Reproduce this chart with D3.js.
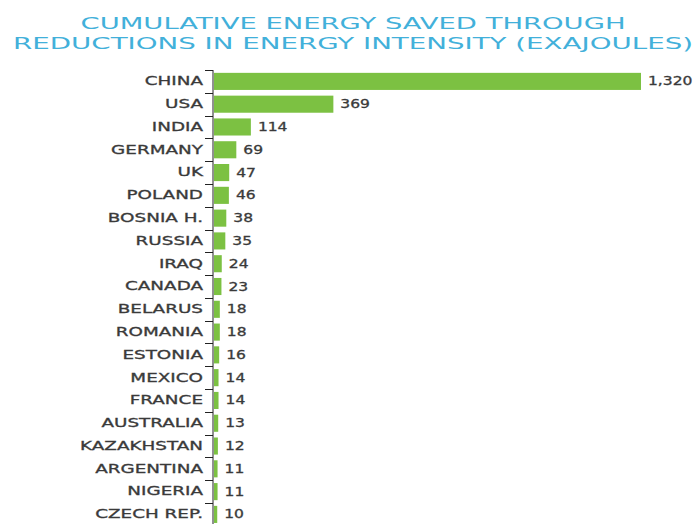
<!DOCTYPE html>
<html>
<head>
<meta charset="utf-8">
<script src="https://cdn.jsdelivr.net/npm/d3@7"></script>
<style>
  html, body { margin: 0; padding: 0; background: #ffffff; }
  svg { display: block; }
</style>
</head>
<body>
<svg id="chart" width="699" height="524"></svg>
<script>
const titleLines = ["CUMULATIVE ENERGY SAVED THROUGH", "REDUCTIONS IN ENERGY INTENSITY (EXAJOULES)"];
const countries = ["CHINA", "USA", "INDIA", "GERMANY", "UK", "POLAND", "BOSNIA H.", "RUSSIA", "IRAQ", "CANADA",
  "BELARUS", "ROMANIA", "ESTONIA", "MEXICO", "FRANCE", "AUSTRALIA", "KAZAKHSTAN", "ARGENTINA", "NIGERIA", "CZECH REP."];
const values = [1320, 369, 114, 69, 47, 46, 38, 35, 24, 23, 18, 18, 16, 14, 14, 13, 12, 11, 11, 10];

const svg = d3.select("#chart");
const SX = 1.53;          // horizontal stretch of the reference lettering
const fontFam = "'DejaVu Sans', sans-serif";

// Title
const titleWidths = [545, 680];
svg.append("g").selectAll("text").data(titleLines).join("text")
  .attr("x", 353)
  .attr("y", (d, i) => 29 + i * 19.5)
  .attr("text-anchor", "middle")
  .attr("font-family", fontFam)
  .attr("font-size", 15.5)
  .attr("fill", "#42b0da")
  .attr("textLength", (d, i) => titleWidths[i])
  .attr("lengthAdjust", "spacingAndGlyphs")
  .text(d => d);

const x = d3.scaleLinear().domain([0, 1320]).range([213, 640]);
const y = d3.scaleBand().domain(countries).range([70, 525.8]).paddingInner(0.25).paddingOuter(0.125);

const rows = countries.map((c, i) => ({ c, v: values[i] }));

// Bars
svg.append("g").selectAll("rect").data(rows).join("rect")
  .attr("x", x(0) + 1)
  .attr("y", d => y(d.c))
  .attr("width", d => x(d.v) - x(0) - 1 + 1)
  .attr("height", y.bandwidth())
  .attr("fill", "#7cc142");

// Axis with category labels
const axisG = svg.append("g")
  .attr("transform", `translate(${x(0)},0)`)
  .call(d3.axisLeft(y).tickSize(0).tickPadding(10));
axisG.select(".domain").remove();
axisG.selectAll("text")
  .attr("font-family", fontFam)
  .attr("font-size", 12)
  .attr("fill", "#3a3a3a")
  .attr("stroke", "#3a3a3a")
  .attr("stroke-width", 0.3)
  .attr("x", null)
  .attr("transform", `translate(-10,0) scale(${SX},1)`);

// Axis line and boundary ticks
const half = y.step() * y.paddingInner() / 2;
svg.append("line")
  .attr("x1", x(0)).attr("x2", x(0))
  .attr("y1", y(countries[0]) - half).attr("y2", 524)
  .attr("stroke", "#222").attr("stroke-width", 1);
svg.append("g").selectAll("line").data(rows).join("line")
  .attr("x1", x(0) - 8).attr("x2", x(0))
  .attr("y1", d => Math.round(y(d.c) - half) + 0.5)
  .attr("y2", d => Math.round(y(d.c) - half) + 0.5)
  .attr("stroke", "#222").attr("stroke-width", 1);

// Value labels
svg.append("g").selectAll("text").data(rows).join("text")
  .attr("transform", d => `translate(${x(d.v) + 8},${y(d.c) + y.bandwidth() / 2}) scale(1.35,1)`)
  .attr("dy", "0.35em")
  .attr("font-family", fontFam)
  .attr("font-size", 11.5)
  .attr("fill", "#3a3a3a")
  .attr("stroke", "#3a3a3a")
  .attr("stroke-width", 0.3)
  .text(d => d3.format(",")(d.v));
</script>
</body>
</html>
